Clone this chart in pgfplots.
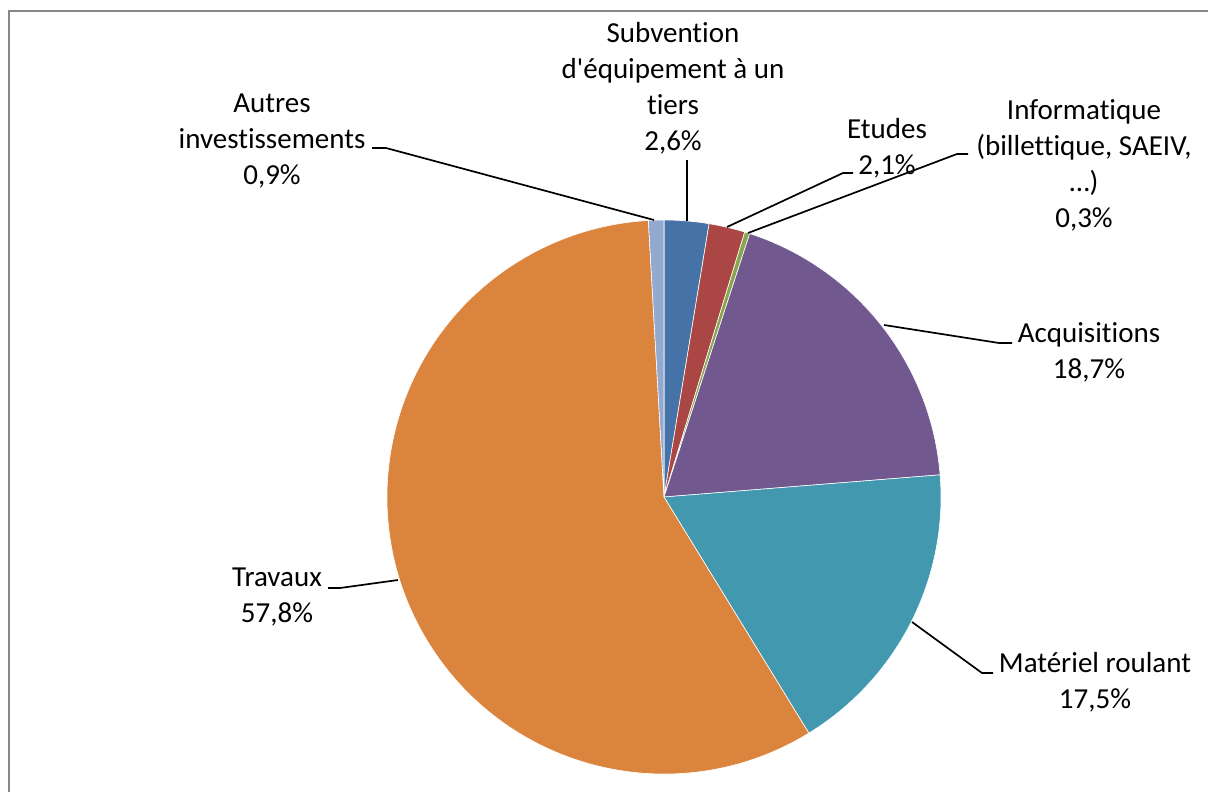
\documentclass[border=0pt]{standalone}
\usepackage{pgfplots}
\pgfplotsset{compat=1.18}
\usepackage{pgfplotstable}
\usepackage{fontspec}
\setmainfont{Carlito}[Ligatures={TeX,NoCommon}]

\definecolor{cSub}{HTML}{4572A7}
\definecolor{cEtu}{HTML}{AA4643}
\definecolor{cInf}{HTML}{89A54E}
\definecolor{cAcq}{HTML}{71588F}
\definecolor{cMat}{HTML}{4198AF}
\definecolor{cTra}{HTML}{DB843D}
\definecolor{cAut}{HTML}{93A9CF}
\definecolor{frame}{HTML}{868686}

% parts in %, clockwise from 12 o'clock
\pgfplotstableread{
value col
2.6   cSub
2.1   cEtu
0.3   cInf
18.7  cAcq
17.5  cMat
57.8  cTra
0.9   cAut
}\piedata

\newcommand\lbl{\fontsize{29}{36}\selectfont}

\begin{document}
\begin{tikzpicture}
\begin{axis}[
    hide axis,
    x=1pt, y=1pt,
    y dir=reverse,
    xmin=0, xmax=1208,
    ymin=0, ymax=792,
    clip=false,
]
  \pgfplotsextra{
    \pgfplotstablegetrowsof{\piedata}
    \pgfmathtruncatemacro\lastrow{\pgfplotsretval-1}
    \gdef\pietotal{0}
    \foreach \i in {0,...,\lastrow}{
      \pgfplotstablegetelem{\i}{value}\of\piedata
      \pgfmathsetmacro\tmp{\pietotal+\pgfplotsretval}
      \xdef\pietotal{\tmp}
    }
    \gdef\angstart{90}
    \foreach \i in {0,...,\lastrow}{
      \pgfplotstablegetelem{\i}{value}\of\piedata
      \pgfmathsetmacro\angend{\angstart-\pgfplotsretval/\pietotal*360}
      \pgfplotstablegetelem{\i}{col}\of\piedata
      \let\slicecol\pgfplotsretval
      \fill[fill=\slicecol, draw=white, line width=0.6pt]
        (axis cs:664,497) -- ++(\angstart:277pt)
        arc[start angle=\angstart, end angle=\angend, radius=277pt] -- cycle;
      \xdef\angstart{\angend}
    }
  }

  % leader lines
  \draw[black, line width=1.7pt] (axis cs:687,160) -- (axis cs:687,221);
  \draw[black, line width=1.7pt] (axis cs:853,173) -- (axis cs:843,173) -- (axis cs:727,227);
  \draw[black, line width=1.7pt] (axis cs:968,154) -- (axis cs:957,154) -- (axis cs:748,233);
  \draw[black, line width=1.7pt] (axis cs:372,148) -- (axis cs:386,148) -- (axis cs:654,220);
  \draw[black, line width=1.7pt] (axis cs:1012,343) -- (axis cs:999,343) -- (axis cs:884,325);
  \draw[black, line width=1.7pt] (axis cs:993,673) -- (axis cs:982,673) -- (axis cs:912,622);
  \draw[black, line width=1.7pt] (axis cs:328,588) -- (axis cs:340,588) -- (axis cs:398,580);

  % labels
  \node[align=center, font=\lbl] at (axis cs:673,88) {Subvention\\d\textquotesingle équipement à un\\tiers\\2,6\%};
  \node[align=center, font=\lbl] at (axis cs:887,148) {Etudes\\2,1\%};
  \node[align=center, font=\lbl] at (axis cs:1084,165) {Informatique\\(billettique, SAEIV,\\…)\\0,3\%};
  \node[align=center, font=\lbl] at (axis cs:272,141) {Autres\\investissements\\0,9\%};
  \node[align=center, font=\lbl] at (axis cs:1089,352) {Acquisitions\\18,7\%};
  \node[align=center, font=\lbl] at (axis cs:1095,682) {Matériel roulant\\17,5\%};
  \node[align=center, font=\lbl] at (axis cs:277,597) {Travaux\\57,8\%};

  % chart area border
  \draw[frame, line width=1.8pt] (axis cs:9,820) -- (axis cs:9,11) -- (axis cs:1230,11);

  \coordinate (bbA) at (axis cs:0,792);
  \coordinate (bbB) at (axis cs:1208,0);
\end{axis}
\pgfresetboundingbox
\path[use as bounding box] (bbA) rectangle (bbB);
\end{tikzpicture}
\end{document}
